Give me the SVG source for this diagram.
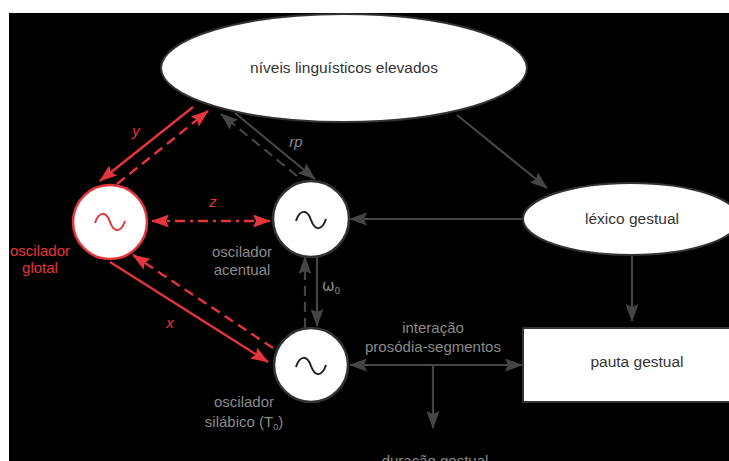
<svg xmlns="http://www.w3.org/2000/svg" width="729" height="461" viewBox="0 0 729 461">
<style>
text{font-family:"Liberation Sans",Arial,sans-serif;}
.nt{font-size:15.5px;fill:#333;text-anchor:middle;}
.lt{font-size:15px;fill:#8a8a8a;text-anchor:middle;}
.rt{font-size:15px;fill:#e4343c;text-anchor:middle;}
.it{font-style:italic;}
.g{stroke:#454545;stroke-width:2.2;fill:none;}
.r{stroke:#e4343c;stroke-width:2.4;fill:none;}
.dash{stroke-dasharray:10 6;}
.dd{stroke-dasharray:10 5 3 5;}
.circ{fill:#fff;stroke:#333;stroke-width:2.5;}
.rcirc{fill:#fff;stroke:#e4343c;stroke-width:2.5;}
.tl{fill:none;stroke:#222;stroke-width:2;}
.rtl{fill:none;stroke:#e4343c;stroke-width:2;}
</style>
<defs>
<marker id="ag" viewBox="0 0 18 13" refX="17" refY="6.5" markerWidth="18" markerHeight="13" markerUnits="userSpaceOnUse" orient="auto-start-reverse"><path d="M0,0 L18,6.5 L0,13 L3,6.5z" fill="#454545"/></marker>
<marker id="ar" viewBox="0 0 18 13" refX="17" refY="6.5" markerWidth="18" markerHeight="13" markerUnits="userSpaceOnUse" orient="auto-start-reverse"><path d="M0,0 L18,6.5 L0,13 L3,6.5z" fill="#e4343c"/></marker>
<path id="tilde" d="M-15,1 C-11,-11 -4,-11 0,0 C4,11 11,11 15,-1"/>
</defs>
<rect x="0" y="0" width="729" height="461" fill="#fff"/>
<rect x="9" y="13" width="720" height="448" fill="#000"/>

<g id="connectors">
<line class="g" x1="457" y1="115" x2="547" y2="188" marker-end="url(#ag)"/>
<line class="g" x1="523" y1="219" x2="350" y2="219" marker-end="url(#ag)"/>
<line class="g" x1="632" y1="256" x2="632" y2="321" marker-end="url(#ag)"/>
<line class="g" x1="350" y1="365" x2="522" y2="365" marker-start="url(#ag)" marker-end="url(#ag)"/>
<line class="g" x1="433" y1="365" x2="433" y2="428" marker-end="url(#ag)"/>
<line class="g" x1="317" y1="256" x2="317" y2="326" marker-end="url(#ag)"/>
<line class="g dash" x1="305" y1="328" x2="305" y2="257" marker-end="url(#ag)"/>
<line class="g" x1="235" y1="113" x2="315" y2="179" marker-end="url(#ag)"/>
<line class="g dash" x1="297" y1="176" x2="221" y2="114" marker-end="url(#ag)"/>
<line class="r" x1="193" y1="107" x2="100" y2="181" marker-end="url(#ar)"/>
<line class="r dash" x1="117" y1="184" x2="208" y2="111" marker-end="url(#ar)"/>
<line class="r dd" x1="152" y1="221" x2="270" y2="221" marker-start="url(#ar)" marker-end="url(#ar)"/>
<line class="r" x1="110" y1="262" x2="268" y2="362" marker-end="url(#ar)"/>
<line class="r dash" x1="273" y1="348" x2="133" y2="255" marker-end="url(#ar)"/>
<text class="rt it" x="136" y="136">y</text>
<text class="rt it" x="213" y="207">z</text>
<text class="rt it" x="170" y="328">x</text>
<text class="lt it" x="296" y="147">rp</text>
<text x="322" y="291" style="font-size:15px;fill:#8a8a8a;font-family:'DejaVu Sans',sans-serif">ω<tspan dy="3" style="font-size:9px">0</tspan></text>
<text class="lt" x="433" y="333">interação</text>
<text class="lt" x="433" y="352">prosódia-segmentos</text>
</g>

<g id="niveis">
<ellipse cx="344" cy="68" rx="183" ry="54" fill="#fff" stroke="#333" stroke-width="2"/>
<text class="nt" x="344" y="73">níveis linguísticos elevados</text>
</g>

<g id="lexico">
<ellipse cx="631" cy="219" rx="108" ry="36" fill="#fff" stroke="#333" stroke-width="2"/>
<text class="nt" x="632" y="224">léxico gestual</text>
</g>

<g id="pauta">
<rect x="523" y="328" width="230" height="74" fill="#fff" stroke="#333" stroke-width="2"/>
<text class="nt" x="637" y="367">pauta gestual</text>
</g>

<g id="glotal">
<circle class="rcirc" cx="110" cy="222" r="37"/>
<use href="#tilde" class="rtl" transform="translate(110,222)"/>
<text class="rt" x="40" y="256">oscilador</text>
<text class="rt" x="40" y="273">glotal</text>
</g>

<g id="acentual">
<circle class="circ" cx="311" cy="219" r="38"/>
<use href="#tilde" class="tl" transform="translate(311,220)"/>
<text class="lt" x="242" y="257">oscilador</text>
<text class="lt" x="242" y="275">acentual</text>
</g>

<g id="silabico">
<circle class="circ" cx="311" cy="365" r="37"/>
<use href="#tilde" class="tl" transform="translate(311,366)"/>
<text class="lt" x="244" y="407">oscilador</text>
<text class="lt" x="244" y="427">silábico (T<tspan dy="3" style="font-size:9px">0</tspan><tspan dy="-3">)</tspan></text>
</g>

<g id="duracao">
<text class="lt" x="435" y="466">duração gestual</text>
</g>
</svg>
